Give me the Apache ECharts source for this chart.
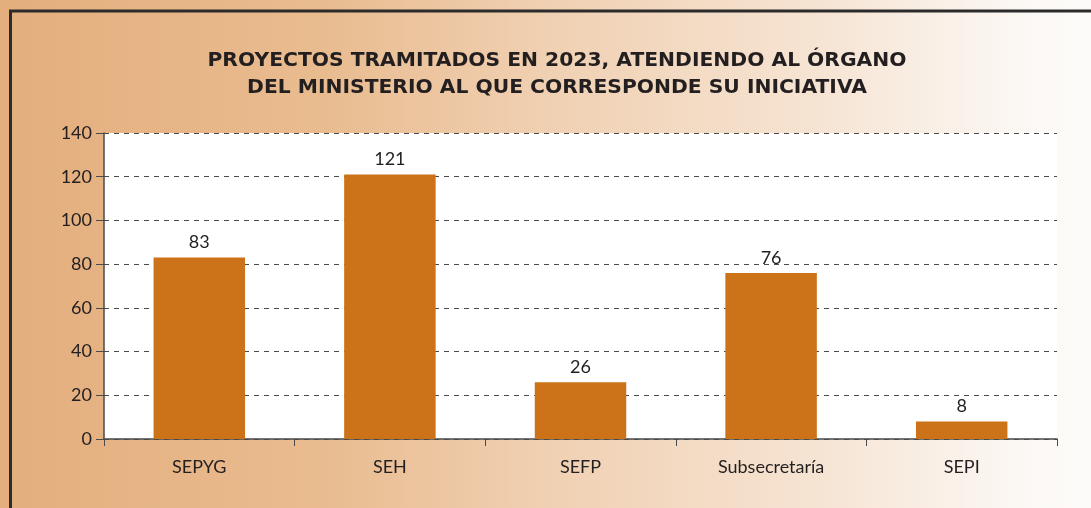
<!DOCTYPE html>
<html>
<head>
<meta charset="utf-8">
<script src="https://cdn.jsdelivr.net/npm/echarts@6/dist/echarts.min.js"></script>
<style>
  html, body { margin: 0; padding: 0; background: #fff; }
  #chart { width: 1091px; height: 508px; }
</style>
</head>
<body>
<div id="chart"></div>
<script>
const categories = ['SEPYG', 'SEH', 'SEFP', 'Subsecretaría', 'SEPI']
const proyectos = [83, 121, 26, 76, 8]
const titleLines = [
  'PROYECTOS TRAMITADOS EN 2023, ATENDIENDO AL ÓRGANO',
  'DEL MINISTERIO AL QUE CORRESPONDE SU INICIATIVA'
]

const chart = echarts.init(document.getElementById('chart'))
const font = 'Lato, "Open Sans", sans-serif'

const options = {
  animation: false,
  backgroundColor: new echarts.graphic.LinearGradient(0, 0, 1, 0, [
    { offset: 0, color: '#e4ae7d' },
    { offset: 0.3, color: '#e9bc90' },
    { offset: 0.5, color: '#f0d0b2' },
    { offset: 0.75, color: '#f6e4d3' },
    { offset: 0.95, color: '#fcf9f6' },
    { offset: 1, color: '#fdfbf9' }
  ]),
  title: {
    text: titleLines.join('\n'),
    left: 552,
    textAlign: 'center',
    top: 42,
    textStyle: {
      fontFamily: '"DejaVu Sans", sans-serif',
      fontWeight: 'bold',
      fontSize: 20.3,
      lineHeight: 27,
      color: '#231f20'
    }
  },
  graphic: [
    { type: 'line', shape: { x1: 9, y1: 11, x2: 1091, y2: 11 }, style: { stroke: '#2b2b2b', lineWidth: 3 } },
    { type: 'line', shape: { x1: 10.5, y1: 10, x2: 10.5, y2: 508 }, style: { stroke: '#2b2b2b', lineWidth: 3 } }
  ],
  grid: {
    left: 104,
    right: 34,
    top: 133,
    bottom: 69,
    show: true,
    backgroundColor: '#ffffff',
    borderWidth: 0
  },
  xAxis: {
    type: 'category',
    data: categories,
    axisLine: { lineStyle: { color: '#4a4a4a', width: 1.5 } },
    axisTick: { show: true, length: 7, lineStyle: { color: '#4a4a4a' } },
    axisLabel: { fontFamily: font, fontSize: 18, color: '#231f20', margin: 19 }
  },
  yAxis: {
    type: 'value',
    min: 0,
    max: 140,
    interval: 20,
    axisLine: { show: true, lineStyle: { color: '#4a4a4a', width: 1.5 } },
    axisTick: { show: true, length: 8, lineStyle: { color: '#4a4a4a' } },
    axisLabel: { fontFamily: font, fontSize: 18, color: '#231f20', margin: 12 },
    splitLine: { show: true, lineStyle: { color: '#4a4a4a', type: [5, 5], width: 1 } }
  },
  series: [{
    type: 'bar',
    data: proyectos,
    barWidth: '48%',
    itemStyle: { color: '#cc7219' },
    label: {
      show: true,
      position: 'top',
      distance: 6,
      fontFamily: font,
      fontSize: 18,
      color: '#231f20'
    }
  }]
}

chart.setOption(options)
</script>
</body>
</html>
